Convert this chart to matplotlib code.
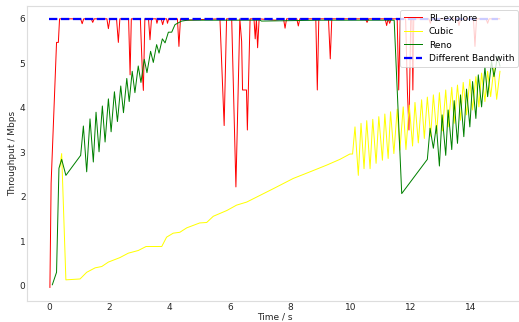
import matplotlib
matplotlib.use("Agg")
import matplotlib.pyplot as plt

# ---- data ----
rl_t = [0.03, 0.07, 0.25, 0.31, 0.35, 1.05, 1.1, 1.15, 1.4, 1.45, 1.5, 1.92, 1.97, 2.02, 2.24, 2.3, 2.35,
        2.64, 2.69, 2.73, 3.03, 3.1, 3.13, 3.18, 3.3, 3.35, 3.4, 3.55, 3.58, 3.62, 3.72, 3.77, 3.82,
        3.9, 3.93, 3.97, 4.26, 4.31, 4.36, 4.5, 5.67, 5.81, 5.89, 6.06, 6.2, 6.33, 6.39, 6.42, 6.55,
        6.58, 6.67, 6.8, 6.84, 6.88, 6.92, 6.97, 7.5, 7.78, 7.83, 7.88, 8.22, 8.27, 8.32, 8.85, 8.9,
        8.95, 9.27, 9.33, 9.38, 10.5, 10.55, 10.6, 11.15, 11.2, 11.25, 11.3, 11.35, 11.55, 11.6, 11.65,
        11.83, 11.89, 11.94, 12.0, 12.04, 12.07, 12.1, 12.6, 12.65, 12.7, 13.55, 13.6, 13.65, 14.08,
        14.13, 14.18, 14.5, 14.55, 14.6, 14.95]
rl_v = [-0.04, 2.3, 5.47, 5.47, 6.0, 6.0, 5.89, 6.0, 6.0, 5.92, 6.0, 6.0, 5.78, 6.0, 6.0, 5.47, 6.0,
        6.0, 4.74, 6.0, 6.0, 4.75, 4.39, 6.0, 6.0, 5.53, 6.0, 6.0, 5.9, 6.0, 6.0, 5.87, 6.0,
        6.0, 5.9, 6.0, 6.0, 5.38, 6.0, 5.97, 6.0, 3.6, 6.0, 6.0, 2.22, 6.0, 5.49, 4.4, 4.4,
        3.5, 6.0, 6.0, 5.55, 6.0, 5.35, 6.0, 5.97, 6.0, 5.79, 6.0, 6.0, 5.84, 6.0, 6.0, 4.4,
        6.0, 6.0, 5.1, 6.0, 6.0, 5.92, 6.0, 6.0, 5.85, 6.0, 5.9, 6.0, 6.0, 4.4, 6.0,
        6.0, 4.35, 3.5, 6.0, 6.0, 4.4, 6.0, 6.0, 5.9, 6.0, 6.0, 5.85, 6.0, 6.0,
        5.38, 6.0, 6.0, 5.9, 6.0, 6.0]

cubic_t = [0.36, 0.42, 0.56, 1.03, 1.25, 1.53, 1.75, 1.97, 2.35, 2.63, 2.96, 3.22, 3.74, 3.9, 4.12,
           4.34, 4.57, 5.0, 5.23, 5.45, 5.9, 6.22, 6.56, 7.0, 7.44, 8.1, 8.66, 9.21, 9.65, 9.98, 10.07,
           10.15, 10.26, 10.35, 10.45, 10.54, 10.65, 10.74, 10.85, 10.94, 11.06, 11.14, 11.25, 11.33,
           11.44, 11.55, 11.64, 11.75, 11.84, 11.95, 12.06, 12.14, 12.25, 12.36, 12.45, 12.55, 12.66,
           12.75, 12.86, 12.95, 13.05, 13.16, 13.24, 13.36, 13.44, 13.55, 13.65, 13.74, 13.85, 13.96,
           14.05, 14.16, 14.26, 14.35, 14.46, 14.55, 14.65, 14.76, 14.85, 14.96]
cubic_v = [2.67, 2.97, 0.13, 0.15, 0.3, 0.4, 0.43, 0.53, 0.63, 0.73, 0.79, 0.88, 0.88, 1.09, 1.18,
           1.2, 1.3, 1.41, 1.42, 1.56, 1.69, 1.81, 1.88, 2.03, 2.18, 2.41, 2.56, 2.71, 2.84, 2.96, 2.96,
           3.57, 2.48, 3.65, 2.63, 3.71, 2.63, 3.74, 2.75, 3.8, 2.82, 3.86, 2.86, 3.91,
           2.97, 3.97, 3.05, 4.02, 3.06, 4.06, 3.14, 4.12, 3.21, 4.18, 3.31, 4.24, 3.36,
           4.29, 3.42, 4.34, 3.48, 4.4, 3.57, 4.46, 3.65, 4.51, 3.72, 4.57, 3.84, 4.64,
           3.95, 4.7, 4.02, 4.78, 4.14, 4.82, 4.25, 4.89, 4.19, 4.82]

reno_t = [0.11, 0.25, 0.33, 0.42, 0.56, 1.05, 1.14, 1.25, 1.36, 1.47, 1.56, 1.66, 1.77, 1.86, 1.97,
          2.06, 2.17, 2.27, 2.38, 2.47, 2.58, 2.66, 2.76, 2.85, 2.96, 3.05, 3.16, 3.25, 3.37, 3.46,
          3.57, 3.65, 3.76, 3.85, 3.96, 4.07, 4.18, 4.4, 4.6, 7.0, 7.05, 9.0, 11.45, 11.7, 12.55,
          12.64, 12.75, 12.85, 12.95, 13.04, 13.16, 13.24, 13.36, 13.44, 13.55, 13.65, 13.76, 13.85,
          13.96, 14.05, 14.16, 14.24, 14.35, 14.46, 14.55, 14.68, 14.76, 14.88, 14.96]
reno_v = [0.02, 0.3, 2.64, 2.84, 2.48, 2.93, 3.59, 2.56, 3.75, 2.78, 3.9, 3.01, 4.04, 3.23, 4.2,
          3.46, 4.36, 3.69, 4.49, 3.89, 4.66, 4.14, 4.82, 4.34, 4.94, 4.57, 5.09, 4.79, 5.27, 5.02,
          5.42, 5.23, 5.55, 5.46, 5.7, 5.7, 5.87, 5.95, 5.97, 5.97, 5.95, 5.97, 5.97, 2.07, 2.84,
          3.54, 3.09, 3.6, 2.69, 3.84, 2.93, 3.95, 3.06, 4.16, 3.2, 4.29, 3.35, 4.42,
          3.57, 4.59, 3.76, 4.74, 4.02, 4.91, 4.25, 5.04, 4.7, 5.15, 4.94]

bw_t = [0.0, 14.9]
bw_v = [6.0, 6.0]

DPI = 65
fig = plt.figure(figsize=(519 / DPI, 322 / DPI), dpi=DPI)
ax = fig.add_axes([27.3 / 519, 20.8 / 322, 495.3 / 519, 295.7 / 322])

ax.plot(rl_t, rl_v, color="red", lw=1.1, label="RL-explore")
ax.plot(cubic_t, cubic_v, color="yellow", lw=1.1, label="Cubic")
ax.plot(reno_t, reno_v, color="green", lw=1.1, label="Reno")
ax.plot(bw_t, bw_v, color="blue", lw=2.5, ls="--", label="Different Bandwith")

ax.set_xlim(-0.72, 15.71)
ax.set_ylim(-0.35, 6.30)
ax.set_xticks([0, 2, 4, 6, 8, 10, 12, 14])
ax.set_yticks([0, 1, 2, 3, 4, 5, 6])
ax.tick_params(length=0, pad=2, labelsize=10, colors="#262626")
ax.set_xlabel("Time / s", fontsize=10, color="#262626", labelpad=1)
ax.set_ylabel("Throughput / Mbps", fontsize=10, color="#262626", labelpad=3)
for sp in ax.spines.values():
    sp.set_color("#dddddd"); sp.set_linewidth(1.25)

leg = ax.legend(loc="upper right", fontsize=10, framealpha=0.8, edgecolor="#cccccc")

fig.savefig("out.png", dpi=DPI)
